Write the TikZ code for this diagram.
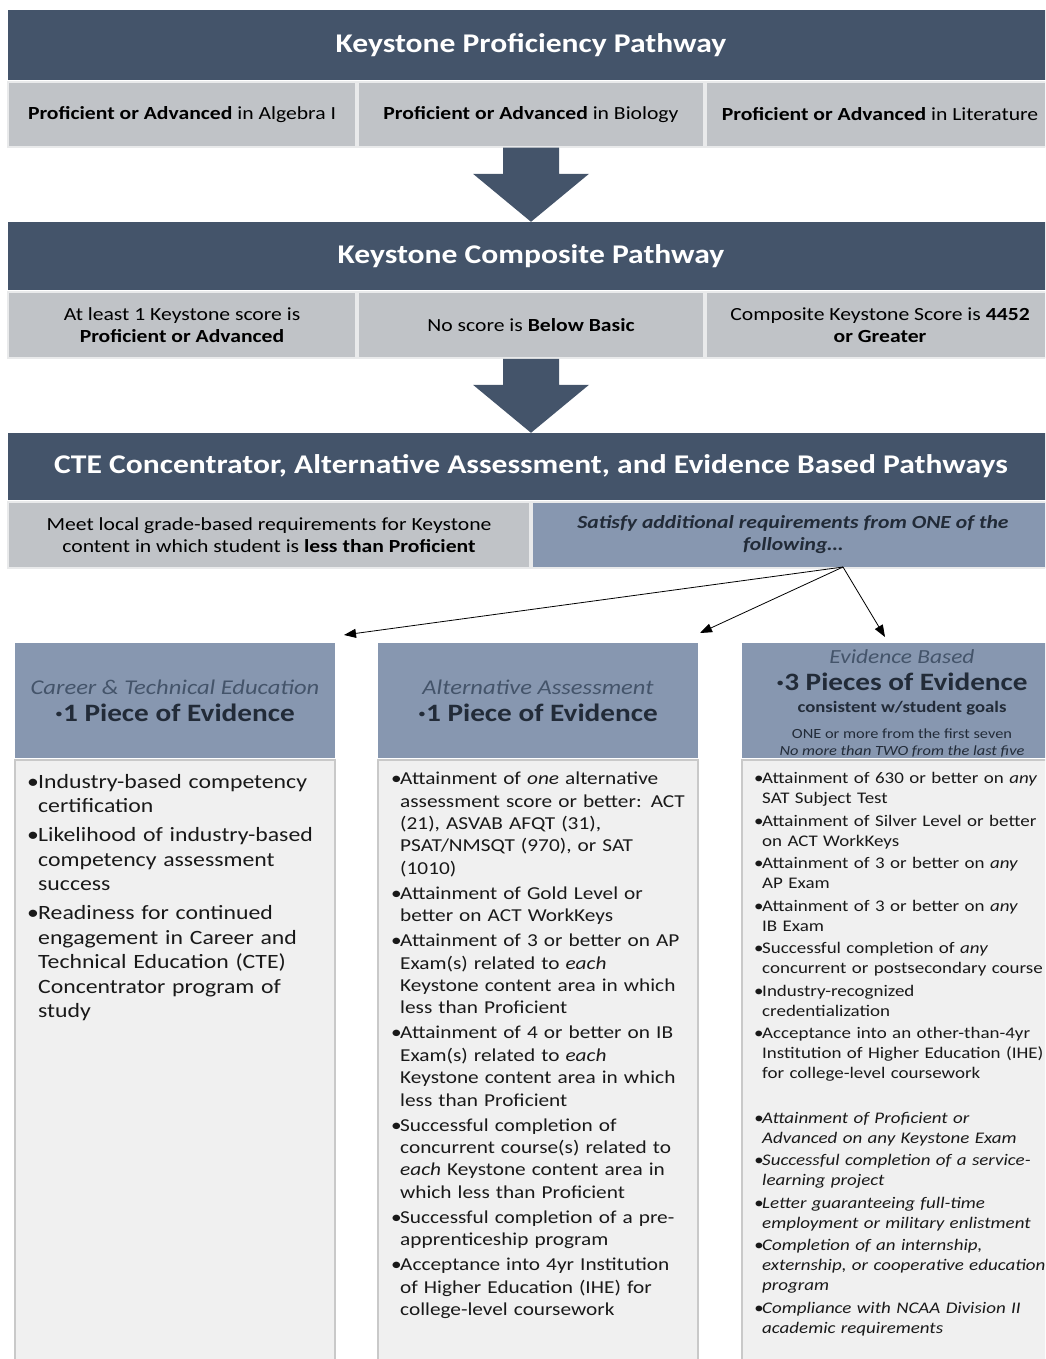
\documentclass[tikz,border=0pt]{standalone}
\usepackage{fontspec}
\setmainfont{Carlito}[FakeStretch=1.17]
\usetikzlibrary{calc,arrows.meta}
\definecolor{slate}{HTML}{44546A}
\definecolor{slatetext}{HTML}{222B38}
\definecolor{greyrow}{HTML}{C0C3C7}
\definecolor{bluegrey}{HTML}{8797B0}
\definecolor{bodygrey}{HTML}{F0F0F0}
\definecolor{bodyedge}{HTML}{C9C9C9}
\newlength{\itemgap}
\newcommand{\pitem}[1][10pt]{\par\addvspace{\itemgap}\hangindent=#1\hangafter=1\noindent\makebox[#1][l]{\textbullet}}

\begin{document}
\begin{tikzpicture}[x=1pt, y=-1pt,
  hdr/.style={fill=slate, text=white, minimum width=1046, inner sep=0,
    font=\fontsize{27}{32}\selectfont\bfseries},
  cell/.style={fill=greyrow, draw=white!65!greyrow, line width=1.5pt, inner sep=0,
    align=center, font=\fontsize{18.5}{22}\selectfont},
  colhd/.style={fill=bluegrey, minimum width=320, minimum height=115, inner sep=0, align=center,
    font=\fontsize{21}{27}\selectfont},
  colbd/.style={fill=bodygrey, draw=bodyedge, line width=1.5pt, minimum width=320, minimum height=610},
  coltx/.style={anchor=north west, inner sep=0, align=left, text=black!90},
  fork/.style={-{Triangle[length=12pt,width=9pt]}, line width=0.8pt}]
\useasboundingbox (0,0) rectangle (1045,1359);
\clip (0,0) rectangle (1045,1359);

% Keystone Proficiency Pathway
\node[hdr, minimum height=70] (hdrA) at (531,45) {Keystone Proficiency Pathway};
\node[cell, minimum width=348, minimum height=65] (rowA1) at (182,114.5) {\textbf{Proficient or Advanced} in Algebra I};
\node[cell, minimum width=346, minimum height=65] (rowA2) at (531,114.5) {\textbf{Proficient or Advanced} in Biology};
\node[cell, minimum width=348, minimum height=65] (rowA3) at (880,114.5) {\textbf{Proficient or Advanced} in Literature};

% Keystone Composite Pathway
\node[hdr, minimum height=68] (hdrB) at (531,256) {Keystone Composite Pathway};
\node[cell, minimum width=348, minimum height=66] (rowB1) at (182,325) {At least 1 Keystone score is\\\textbf{Proficient or Advanced}};
\node[cell, minimum width=346, minimum height=66] (rowB2) at (531,325) {No score is \textbf{Below Basic}};
\node[cell, minimum width=348, minimum height=66] (rowB3) at (880,325) {Composite Keystone Score is \textbf{4452}\\\textbf{or Greater}};

% CTE, alternative, evidence
\node[hdr, minimum height=67] (hdrC) at (531,466.5) {CTE Concentrator, Alternative Assessment, and Evidence Based Pathways};
\node[cell, minimum width=522, minimum height=66] (rowC1) at (269,535) {Meet local grade-based requirements for Keystone\\content in which student is \textbf{less than Proficient}};
\node[cell, fill=bluegrey, minimum width=522, minimum height=66, text=slatetext,
  font=\fontsize{18.5}{22}\selectfont\bfseries\itshape] (rowC2) at (793,535) {Satisfy additional requirements from ONE of the\\following\dots};

% block arrows
\foreach \a/\b in {rowA2/hdrB, rowB2/hdrC} {
  \fill[slate] ($(\a.south)+(-28,0)$) -- ($(\a.south)+(28,0)$) -- ($(\b.north -| \a.south)+(28,-48)$)
    -- ($(\b.north -| \a.south)+(58,-48)$) -- (\b.north -| \a.south) -- ($(\b.north -| \a.south)+(-58,-48)$)
    -- ($(\b.north -| \a.south)+(-28,-48)$) -- cycle;
}

% three pathways
\node[colhd] (colAhd) at (175,700.5) {{\itshape\color{slate}Career \& Technical Education}\\
  {\fontsize{25}{27}\selectfont\bfseries\color{slatetext}\textperiodcentered1 Piece of Evidence}};
\node[colhd] (colBhd) at (538,700.5) {{\itshape\color{slate}Alternative Assessment}\\
  {\fontsize{25}{27}\selectfont\bfseries\color{slatetext}\textperiodcentered1 Piece of Evidence}};
\node[colhd, font=\fontsize{14}{17}\selectfont] (colChd) at (902,700.5) {};
\node[align=center, inner sep=0, font=\fontsize{14}{17}\selectfont] (colChdtx) at (902,703.5) {{\fontsize{20}{24}\selectfont\itshape\color{slate}Evidence Based}\\[9pt]
  {\fontsize{25}{26}\selectfont\bfseries\color{slatetext}\textperiodcentered3 Pieces of Evidence}\\[5pt]
  {\fontsize{16}{20}\selectfont\bfseries\color{slatetext}consistent w/student goals}\\[9pt]
  {\color{slatetext}ONE or more from the first seven}\\
  {\itshape\color{slatetext}No more than TWO from the last five}};

\node[colbd] (colAbd) at (175,1065) {};
\node[colbd] (colBbd) at (538,1065) {};
\node[colbd] (colCbd) at (902,1065) {};

\node[coltx, text width=300, font=\fontsize{20.3}{24.5}\selectfont] (colAtx) at (27,759) {\setlength{\itemgap}{4.5pt}%
  \pitem[11pt]Industry-based competency\newline certification
  \pitem[11pt]Likelihood of industry-based\newline competency assessment\newline success
  \pitem[11pt]Readiness for continued\newline engagement in Career and\newline Technical Education (CTE)\newline Concentrator program of\newline study\par};

\node[coltx, text width=305, font=\fontsize{18.2}{22.4}\selectfont] (colBtx) at (391,759.5) {\setlength{\itemgap}{2.6pt}%
  \pitem[9pt]Attainment of \textit{one} alternative\newline assessment score or better: ACT\newline (21), ASVAB AFQT (31),\newline PSAT/NMSQT (970), or SAT\newline (1010)
  \pitem[9pt]Attainment of Gold Level or\newline better on ACT WorkKeys
  \pitem[9pt]Attainment of 3 or better on AP\newline Exam(s) related to \textit{each}\newline Keystone content area in which\newline less than Proficient
  \pitem[9pt]Attainment of 4 or better on IB\newline Exam(s) related to \textit{each}\newline Keystone content area in which\newline less than Proficient
  \pitem[9pt]Successful completion of\newline concurrent course(s) related to\newline \textit{each} Keystone content area in\newline which less than Proficient
  \pitem[9pt]Successful completion of a pre-\newline apprenticeship program
  \pitem[9pt]Acceptance into 4yr Institution\newline of Higher Education (IHE) for\newline college-level coursework\par};

\node[coltx, text width=320, font=\fontsize{16.2}{20}\selectfont] (colCtx) at (754,761) {\setlength{\itemgap}{2.5pt}%
  \pitem[8pt]Attainment of 630 or better on \textit{any}\newline SAT Subject Test
  \pitem[8pt]Attainment of Silver Level or better\newline on ACT WorkKeys
  \pitem[8pt]Attainment of 3 or better on \textit{any}\newline AP Exam
  \pitem[8pt]Attainment of 3 or better on \textit{any}\newline IB Exam
  \pitem[8pt]Successful completion of \textit{any}\newline concurrent or postsecondary course
  \pitem[8pt]Industry-recognized\newline credentialization
  \pitem[8pt]Acceptance into an other-than-4yr\newline Institution of Higher Education (IHE)\newline for college-level coursework
  \par\vspace{22pt}\itshape
  \pitem[8pt]Attainment of Proficient or\newline Advanced on any Keystone Exam
  \pitem[8pt]Successful completion of a service-\newline learning project
  \pitem[8pt]Letter guaranteeing full-time\newline employment or military enlistment
  \pitem[8pt]Completion of an internship,\newline externship, or cooperative education\newline program
  \pitem[8pt]Compliance with NCAA Division II\newline academic requirements\par};

% connectors from the "one of the following" cell
\coordinate (split) at (843,567);
\coordinate (tipA) at (344,635);
\coordinate (tipB) at (700,633);
\coordinate (tipC) at (885,637);
\draw[fork] (split) -- (tipA);
\draw[fork] (split) -- (tipB);
\draw[fork] (split) -- (tipC);
\end{tikzpicture}
\end{document}
